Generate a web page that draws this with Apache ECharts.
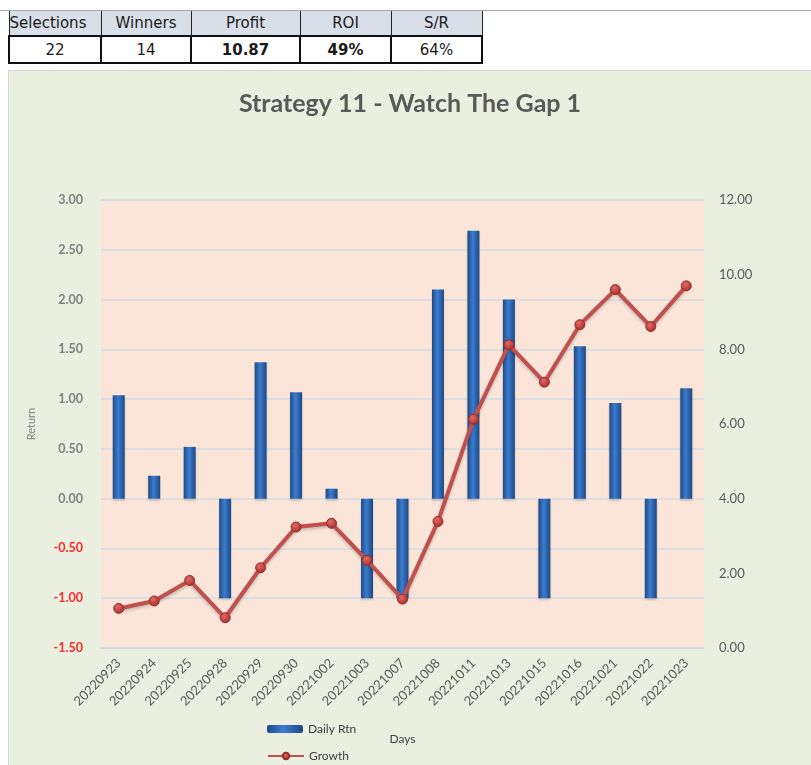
<!DOCTYPE html>
<html>
<head>
<meta charset="utf-8">
<script src="https://cdn.jsdelivr.net/npm/echarts@6/dist/echarts.min.js"></script>
<style>
  html, body { margin: 0; padding: 0; background: #ffffff; width: 811px; height: 765px; overflow: hidden; }
  #topline { position: absolute; left: 0; top: 10px; width: 811px; height: 1px; background: #a6a6a6; }
  #stats { position: absolute; left: 8px; top: 11px; border-collapse: collapse; font-family: "DejaVu Sans", sans-serif; font-size: 15px; color: #1a1a1a; table-layout: fixed; }
  #stats td { padding: 0; text-align: center; overflow: hidden; white-space: nowrap; }
  #stats tr.h td { background: #d8dfe8; height: 24px; border-left: 1.5px solid #222; border-right: 1.5px solid #222; }
  #stats tr.v td { background: #ffffff; height: 25px; border: 2px solid #111; }
  #stats td.b { font-weight: bold; }
  #chart { position: absolute; left: 8px; top: 70px; width: 803px; height: 695px; border-left: 1px solid #d4d4d4; border-top: 1px solid #d4d4d4; box-sizing: border-box; }
</style>
</head>
<body>
<div id="topline"></div>
<table id="stats">
  <colgroup><col style="width:92px"><col style="width:90px"><col style="width:109px"><col style="width:91px"><col style="width:91px"></colgroup>
  <tr class="h" id="hrow"></tr>
  <tr class="v" id="vrow"></tr>
</table>
<div id="chart"></div>
<script>
// ---- data ----
const statHeaders = ['Selections', 'Winners', 'Profit', 'ROI', 'S/R'];
const statValues = ['22', '14', '10.87', '49%', '64%'];
const statBold = [false, false, true, true, false];

const categories = ['20220923','20220924','20220925','20220928','20220929','20220930','20221002','20221003','20221007','20221008','20221011','20221013','20221015','20221016','20221021','20221022','20221023'];
const dailyRtn = [1.04, 0.23, 0.52, -1.00, 1.37, 1.07, 0.10, -1.00, -1.00, 2.10, 2.69, 2.00, -1.00, 1.53, 0.96, -1.00, 1.11];
const growth = [1.06, 1.26, 1.81, 0.81, 2.15, 3.24, 3.34, 2.35, 1.31, 3.39, 6.13, 8.12, 7.12, 8.66, 9.60, 8.61, 9.70];

const chartTitle = 'Strategy 11 - Watch The Gap 1';

// ---- table ----
const hrow = document.getElementById('hrow');
const vrow = document.getElementById('vrow');
statHeaders.forEach((h, i) => {
  const td = document.createElement('td');
  td.textContent = h;
  if (i === 0) td.style.textAlign = 'left';
  hrow.appendChild(td);
  const tv = document.createElement('td');
  tv.textContent = statValues[i];
  if (statBold[i]) tv.className = 'b';
  vrow.appendChild(tv);
});

// ---- chart ----
const chart = echarts.init(document.getElementById('chart'), null, { renderer: 'canvas' });
const font = 'Lato, "Open Sans", sans-serif';
const legendText = { fontFamily: font, fontSize: 12, color: '#404040' };
chart.setOption({
  backgroundColor: '#ebefdf',
  animation: false,
  title: {
    text: chartTitle,
    left: 'center',
    top: 15,
    textStyle: { fontFamily: font, fontSize: 25, fontWeight: 'bold', color: '#595959' }
  },
  legend: [
    {
      left: 258, top: 652, padding: 0, itemGap: 0, itemWidth: 36, itemHeight: 8,
      textStyle: legendText, data: ['Daily Rtn']
    },
    {
      left: 258, top: 679, padding: 0, itemGap: 0, itemWidth: 36, itemHeight: 8,
      textStyle: legendText, data: ['Growth']
    }
  ],
  grid: { left: 92, right: 107, top: 129, bottom: 117, show: true, backgroundColor: '#fae5d8', borderWidth: 0 },
  xAxis: {
    type: 'category',
    data: categories,
    name: 'Days',
    nameLocation: 'middle',
    nameGap: 85,
    nameTextStyle: { fontFamily: font, fontSize: 12, color: '#404040' },
    axisLine: { onZero: false, lineStyle: { color: '#d0d6de' } },
    axisTick: { show: false },
    axisLabel: { interval: 0, rotate: 45, margin: 13, fontFamily: font, fontSize: 13, color: '#595959' }
  },
  yAxis: [
    {
      type: 'value',
      min: -1.5, max: 3, interval: 0.5,
      name: 'Return',
      nameLocation: 'middle',
      nameGap: 64,
      nameTextStyle: { fontFamily: font, fontSize: 11, color: '#7f7f7f' },
      axisLine: { show: false },
      axisTick: { show: false },
      splitLine: { lineStyle: { color: '#d3dbe5', width: 1.5 } },
      axisLabel: {
        margin: 18,
        fontFamily: font, fontSize: 12.5, fontWeight: 'bold',
        formatter: v => v.toFixed(2),
        color: v => (v < 0 ? '#ff2a2a' : '#808080')
      }
    },
    {
      type: 'value',
      min: 0, max: 12, interval: 2,
      axisLine: { show: false },
      axisTick: { show: false },
      splitLine: { show: false },
      axisLabel: {
        margin: 15,
        fontFamily: font, fontSize: 13,
        formatter: v => v.toFixed(2),
        color: '#595959'
      }
    }
  ],
  series: [
    {
      name: 'Daily Rtn',
      type: 'bar',
      yAxisIndex: 0,
      data: dailyRtn,
      barWidth: 12,
      itemStyle: {
        color: new echarts.graphic.LinearGradient(0, 0, 1, 0, [
          { offset: 0, color: '#1e4a85' },
          { offset: 0.45, color: '#3b7cd0' },
          { offset: 1, color: '#1d4883' }
        ]),
        shadowColor: 'rgba(0,0,0,0.15)',
        shadowBlur: 2,
        shadowOffsetY: 2
      }
    },
    {
      name: 'Growth',
      type: 'line',
      yAxisIndex: 1,
      data: growth,
      symbol: 'circle',
      symbolSize: 10,
      lineStyle: { color: '#c0504d', width: 4, shadowColor: 'rgba(0,0,0,0.2)', shadowBlur: 3, shadowOffsetY: 2 },
      itemStyle: {
        color: new echarts.graphic.RadialGradient(0.4, 0.35, 0.7, [
          { offset: 0, color: '#e06a66' },
          { offset: 1, color: '#a02b28' }
        ]),
        borderColor: '#9c2a27',
        borderWidth: 1
      }
    }
  ]
});
</script>
</body>
</html>
